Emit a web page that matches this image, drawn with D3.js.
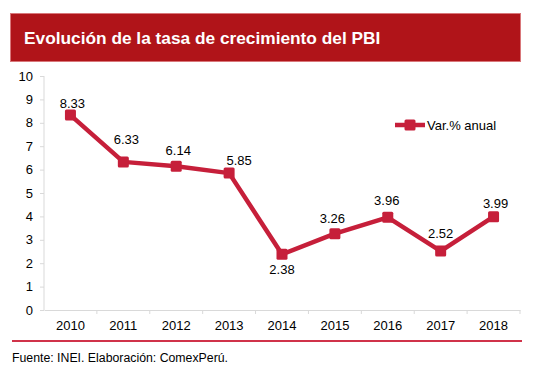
<!DOCTYPE html>
<html>
<head>
<meta charset="utf-8">
<script src="https://cdn.jsdelivr.net/npm/d3@7"></script>
<style>
	body { margin: 0; background: #fff; }
	text { font-family: "Liberation Sans", Arial, sans-serif; }
</style>
</head>
<body>
<div id="chart-area"></div>
<script>
// Data
const years = ['2010', '2011', '2012', '2013', '2014', '2015', '2016', '2017', '2018']
const growth = [8.33, 6.33, 6.14, 5.85, 2.38, 3.26, 3.96, 2.52, 3.99]
const yTicks = [0, 1, 2, 3, 4, 5, 6, 7, 8, 9, 10]
const seriesName = 'Var.% anual'

// hand placed data labels (dx, dy of baseline from the marker)
const labelShift = [[2, -7], [3, -17.5], [2, -11.5], [10, -8.5], [0, 20], [-2.5, -11], [-1, -12.5], [0, -13], [2, -9]]

const canvas = { width: 537, height: 372 }
const plot = { left: 44, right: 520, top: 76, bottom: 310 }
const red = '#c61f3a'

let svg = d3.select('#chart-area')
	.append('svg')
		.attr('width', canvas.width)
		.attr('height', canvas.height)

// Title bar
svg.append('rect')
	.attr('x', 10.5).attr('y', 13.5)
	.attr('width', 510).attr('height', 48)
	.attr('fill', '#b01419')
	.attr('stroke', '#d9777a')
	.attr('stroke-width', 1)
svg.append('text')
	.attr('x', 24).attr('y', 44)
	.attr('fill', '#fff')
	.attr('font-size', '17.3px')
	.attr('font-weight', 'bold')
	.text('Evolución de la tasa de crecimiento del PBI')

// Scales
let x = d3.scaleBand()
	.domain(years)
	.range([plot.left, plot.right])
let y = d3.scaleLinear()
	.domain([0, 10])
	.range([plot.bottom, plot.top])

// Axes
let yAxis = svg.append('g')
	.attr('transform', `translate(${plot.left}, 0)`)
	.call(d3.axisLeft(y).tickValues(yTicks).tickSize(4).tickPadding(7))
let xAxis = svg.append('g')
	.attr('transform', `translate(0, ${plot.bottom})`)
	.call(d3.axisBottom(x).tickSize(0).tickPadding(11))
// category boundary ticks
svg.append('g')
	.selectAll('line')
	.data(years)
	.enter()
	.append('line')
		.attr('x1', d => x(d) + x.bandwidth())
		.attr('x2', d => x(d) + x.bandwidth())
		.attr('y1', plot.bottom)
		.attr('y2', plot.bottom + 4)
		.attr('stroke', '#d9d9d9')

;[yAxis, xAxis].forEach(a => {
	a.selectAll('path, line').attr('stroke', '#d9d9d9')
	a.selectAll('text')
		.attr('font-size', '13px')
		.attr('fill', '#000')
		.style('font-family', '"Liberation Sans", Arial, sans-serif')
})
yAxis.select('path').attr('d', `M0,${plot.top}V${plot.bottom}`)

// Line
let cx = d => x(d) + x.bandwidth() / 2
let points = years.map((yr, i) => ({ year: yr, value: growth[i], shift: labelShift[i] }))
svg.append('path')
	.datum(points)
	.attr('fill', 'none')
	.attr('stroke', red)
	.attr('stroke-width', 4.5)
	.attr('stroke-linejoin', 'round')
	.attr('d', d3.line().x(d => cx(d.year)).y(d => y(d.value)))

svg.append('g')
	.selectAll('rect')
	.data(points)
	.enter()
	.append('rect')
		.attr('x', d => cx(d.year) - 5.5)
		.attr('y', d => y(d.value) - 5.5)
		.attr('width', 11).attr('height', 11)
		.attr('rx', 1.5)
		.attr('fill', red)

// Data labels
svg.append('g')
	.selectAll('text')
	.data(points)
	.enter()
	.append('text')
		.attr('x', d => cx(d.year) + d.shift[0])
		.attr('y', d => y(d.value) + d.shift[1])
		.attr('text-anchor', 'middle')
		.attr('font-size', '13px')
		.text(d => d.value.toFixed(2))

// Legend
let legend = svg.append('g')
	.attr('transform', 'translate(395, 125)')
legend.append('line')
	.attr('x1', 0).attr('x2', 30)
	.attr('stroke', red)
	.attr('stroke-width', 4.5)
legend.append('rect')
	.attr('x', 9.5).attr('y', -5.5)
	.attr('width', 11).attr('height', 11)
	.attr('rx', 1.5)
	.attr('fill', red)
legend.append('text')
	.attr('x', 32).attr('y', 5)
	.attr('font-size', '13px')
	.text(seriesName)

// Footer
svg.append('line')
	.attr('x1', 12).attr('x2', 522)
	.attr('y1', 341).attr('y2', 341)
	.attr('stroke', '#d0334a')
	.attr('stroke-width', 2)
svg.append('text')
	.attr('x', 12).attr('y', 362)
	.attr('font-size', '12.3px')
	.text('Fuente: INEI. Elaboración: ComexPerú.')
</script>
</body>
</html>
